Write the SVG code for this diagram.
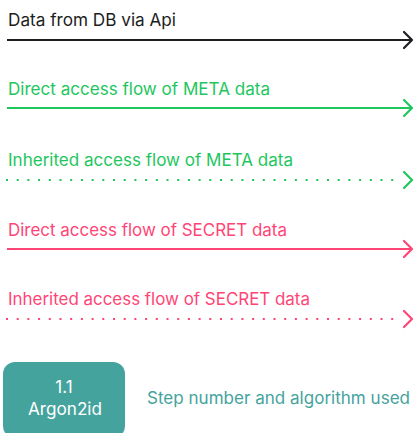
<svg xmlns="http://www.w3.org/2000/svg" width="415" height="433" viewBox="0 0 415 433">
<style>
text{font-family:"Inter","Open Sans","Liberation Sans",sans-serif;font-size:17px}
.k{fill:#1c1d21}.g{fill:#1ec65e}.p{fill:#ff4576}.t{fill:#45a39e}
.ln{fill:none;stroke-width:2}
.dot{stroke-dasharray:2 8.7;stroke-linecap:butt}
.hd{fill:none;stroke-width:2.2;stroke-linecap:round;stroke-linejoin:round}
</style>
<rect width="415" height="433" fill="#ffffff"/>
<g id="labels">
<text class="k" x="8" y="26" textLength="168" lengthAdjust="spacingAndGlyphs">Data from DB via Api</text>
<text class="g" x="8" y="95" textLength="262" lengthAdjust="spacingAndGlyphs">Direct access flow of META data</text>
<text class="g" x="8" y="166" textLength="285" lengthAdjust="spacingAndGlyphs">Inherited access flow of META data</text>
<text class="p" x="8" y="236" textLength="279" lengthAdjust="spacingAndGlyphs">Direct access flow of SECRET data</text>
<text class="p" x="8" y="305" textLength="302" lengthAdjust="spacingAndGlyphs">Inherited access flow of SECRET data</text>
</g>
<g id="connectors">
<line class="ln" x1="7" y1="40" x2="412" y2="40" stroke="#1c1d21"/>
<polyline class="hd" points="404,32 412,40 404,48" stroke="#1c1d21"/>
<line class="ln" x1="7" y1="108" x2="412" y2="108" stroke="#1ec65e"/>
<polyline class="hd" points="404,100 412,108 404,116" stroke="#1ec65e"/>
<line class="ln dot" x1="6" y1="180" x2="400" y2="180" stroke="#1ec65e"/>
<polyline class="hd" points="404,172 412,180 404,188" stroke="#1ec65e"/>
<line class="ln" x1="7" y1="249" x2="412" y2="249" stroke="#ff4576"/>
<polyline class="hd" points="404,241 412,249 404,257" stroke="#ff4576"/>
<line class="ln dot" x1="6" y1="319" x2="400" y2="319" stroke="#ff4576"/>
<polyline class="hd" points="404,311 412,319 404,327" stroke="#ff4576"/>
</g>
<g id="legend-step">
<rect x="3" y="362" width="122" height="76" rx="12" fill="#45a39e"/>
<text x="64" y="393" text-anchor="middle" fill="#ffffff">1.1</text>
<text x="65" y="415" text-anchor="middle" fill="#ffffff" textLength="74" lengthAdjust="spacingAndGlyphs">Argon2id</text>
</g>
<g id="legend-text">
<text class="t" x="147" y="404" textLength="263" lengthAdjust="spacingAndGlyphs">Step number and algorithm used</text>
</g>
</svg>
